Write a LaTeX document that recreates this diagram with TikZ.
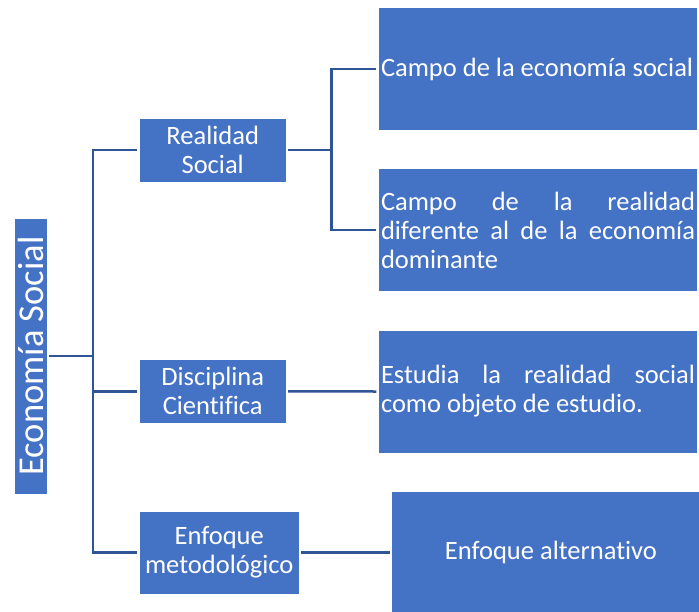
\documentclass[tikz,border=0pt]{standalone}
\usepackage{fontspec}
\setmainfont[Ligatures={NoCommon}]{Carlito}
\definecolor{boxblue}{HTML}{4472C4}
\definecolor{linkblue}{HTML}{2F5597}
\tikzset{
  box/.style={fill=boxblue, draw=white, line width=0.6pt, text=white, inner sep=0pt,
    outer sep=2pt, font=\fontsize{26.5}{29}\selectfont},
  textbox/.style={box, minimum width=319.4pt, minimum height=123.4pt,
    text width=314pt, align=justify},
  link/.style={draw=linkblue, line width=2.5pt}
}
\begin{document}
\begin{tikzpicture}[x=1pt, y=-1pt]
  \useasboundingbox (0,0) rectangle (699,611);
  \begin{scope}
    \clip (0,0) rectangle (699,611);
    % left
    \node[box, minimum width=33pt, minimum height=276pt] (econ) at (30.5,356)
      {\rotatebox{90}{\fontsize{36.5}{40}\selectfont Economía Social}};
    % middle
    \node[box, minimum width=146.7pt, minimum height=64.3pt, align=center] (real) at (212.7,150)
      {Realidad\\Social};
    \node[box, minimum width=146.7pt, minimum height=64pt, align=center] (disc) at (212.7,391.3)
      {Disciplina\\Cientifica};
    \node[box, minimum width=159.7pt, minimum height=83pt, align=center] (enf) at (219.2,552.5)
      {Enfoque\\metodológico};
    % right
    \node[textbox] (campo) at (538,69) {Campo de la economía social};
    \node[textbox] (otro) at (538,230)
      {Campo de la realidad\linebreak diferente al de la economía\linebreak dominante};
    \node[textbox] (estudia) at (538,391.5)
      {Estudia la realidad social\linebreak como objeto de estudio.};
    \node[box, minimum width=318.3pt, minimum height=123pt] (alt) at (550.9,552.5)
      {Enfoque alternativo};
    \coordinate (spine) at (93,0);
    \coordinate (fork) at (331.5,0);
    \begin{scope}[link]
      \draw (econ.east) -- (econ.east -| spine);
      \draw (real.west) -- (real.west -| spine) -- (enf.west -| spine) -- (enf.west);
      \draw (disc.west -| spine) -- (disc.west);
      \draw (real.east) -- (real.east -| fork);
      \draw (campo.west) -- (campo.west -| fork) -- (otro.west -| fork) -- (otro.west);
      \draw (disc.east) -- (estudia.west);
      \draw (enf.east) -- (alt.west);
    \end{scope}
  \end{scope}
\end{tikzpicture}
\end{document}
